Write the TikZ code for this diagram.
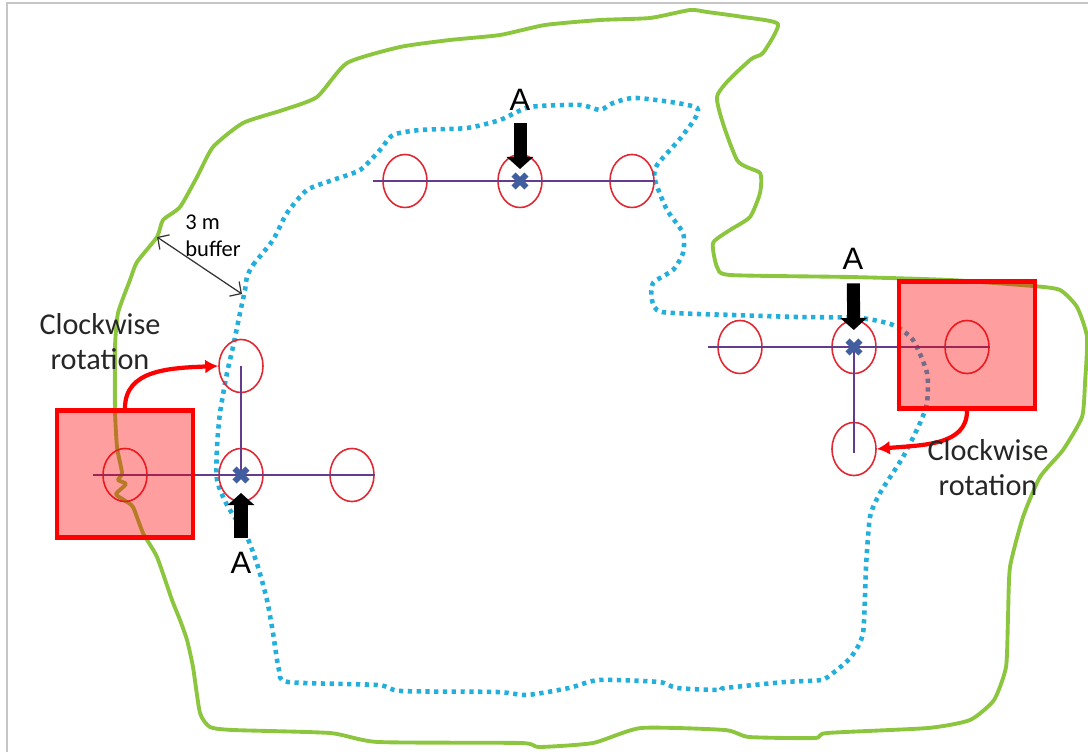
\documentclass[tikz,border=0pt]{standalone}
\usepackage{fontspec}
\setmainfont{Carlito}
\newfontfamily\arialfont{Liberation Sans}
\usetikzlibrary{arrows.meta, shapes.geometric, shapes.misc}

\definecolor{edgegreen}{RGB}{140,198,63}
\definecolor{bufblue}{RGB}{35,175,220}
\definecolor{ringred}{RGB}{225,40,50}
\definecolor{guidepurple}{RGB}{100,60,140}
\definecolor{markblue}{RGB}{65,95,160}

\tikzset{
 spot/.style={ellipse, draw=ringred, line width=0.45pt, minimum width=0.44cm, minimum height=0.53cm, inner sep=0pt},
 lot/.style={draw=red, line width=1.3pt, fill=red, fill opacity=0.38, draw opacity=1, minimum width=1.36cm, minimum height=1.27cm, inner sep=0pt},
 guide/.style={draw=guidepurple, line width=0.45pt},
 centre/.style={cross out, draw=markblue, line width=1.7pt, minimum size=0.07cm, inner sep=0pt},
 pointer/.style={line width=0.13cm, -{Triangle[length=0.12cm, width=0.26cm]}},
 letterA/.style={font=\arialfont\fontsize{8.8}{10}\selectfont, inner sep=0pt},
 note/.style={align=center, font=\fontsize{8.6}{10}\selectfont, text=black!85},
 turn/.style={draw=red, line width=1.2pt, -{Latex[length=0.13cm, width=0.14cm]}}
}

\begin{document}
\begin{tikzpicture}[x=0.01cm, y=-0.01cm]
 \useasboundingbox (0,0) rectangle (1088,752);
 \draw[gray!45, line width=0.6pt] (7,752) -- (7,3) -- (1088,3);

 % plot edge
 \draw[edgegreen, line width=1.1pt, line join=round] plot[smooth cycle, tension=0.35] coordinates {
  (130,280) (137,262) (157,237) (163,220) (180,207) (197,177) (213,147) (243,123)
  (283,110) (317,97) (347,63) (400,47) (450,40) (500,35) (545,25) (600,20) (650,18)
  (690,10) (707,12) (743,17) (778,24) (763,53) (750,60) (717,97) (737,160) (760,173)
  (760,193) (750,217) (730,230) (713,243) (717,267) (730,275) (850,277) (950,280)
  (1033,286) (1060,290) (1077,307) (1087,337) (1085,383) (1082,417) (1063,450)
  (1040,477) (1023,517) (1010,567) (1008,617) (1006,667) (994,700) (970,720)
  (928,728) (827,733) (815,738) (749,737) (725,730) (641,728) (593,743) (539,747)
  (521,743) (378,742) (330,733) (233,730) (210,727) (200,713) (193,667) (187,640)
  (180,620) (172,600) (157,557) (143,533) (133,507) (124,500) (116,494) (126,484)
  (118,480) (122,473) (117,447) (115,410) (115,347) (118,313)};

 % 3 m buffer
 \draw[bufblue, line width=1.3pt, dash pattern=on 1.2pt off 1.3pt] plot[smooth cycle, tension=0.4] coordinates {
  (247,277) (253,265) (273,240) (287,213) (307,190) (333,180) (360,170) (380,150)
  (393,135) (420,130) (467,128) (500,120) (530,107) (580,105) (600,110) (613,103)
  (637,98) (697,108) (683,135) (657,165) (655,180) (667,210) (683,233) (683,253)
  (673,270) (653,283) (652,300) (662,312) (733,315) (797,317) (860,318) (893,325)
  (913,340) (927,373) (927,403) (920,423) (903,457) (880,493) (870,517) (866,567)
  (863,633) (851,657) (833,673) (821,680) (785,682) (725,688) (719,690) (677,688)
  (659,682) (599,680) (569,688) (527,695) (497,692) (401,691) (378,685) (288,682)
  (279,670) (273,633) (267,600) (258,567) (247,537) (227,505) (217,480) (217,447)
  (220,413) (227,373) (233,347) (240,313) (245,290)};

 % top row
 \node[spot] (t1) at (405,181) {};
 \node[spot] (t2) at (520,181) {};
 \node[spot] (t3) at (632,181) {};
 \draw[guide] ([xshift=-0.32cm]t1.center) -- (t3.east);

 % left group
 \node[spot] (l0) at (125,475) {};
 \node[spot] (l1) at (241,366) {};
 \node[spot] (l2) at (241,475) {};
 \node[spot] (l3) at (352,475) {};
 \draw[guide] ([xshift=-0.32cm]l0.center) -- (l3.east);
 \draw[guide] (l1.center) -- (l2.center);

 % right group
 \node[spot] (r1) at (740,347) {};
 \node[spot] (r2) at (854,347) {};
 \node[spot] (r3) at (967,347) {};
 \node[spot] (r4) at (854,449) {};
 \draw[guide] ([xshift=-0.32cm]r1.center) -- (r3.east);
 \draw[guide] (r2.center) -- ([yshift=-0.04cm]r4.center);

 \node[centre] (xt) at (t2.center) {};
 \node[centre] (xb) at (l2.center) {};
 \node[centre] (xr) at (r2.center) {};

 \node[lot] (sqL) at (125,474) {};
 \node[lot] (sqR) at (967,345) {};

 % A arrows
 \node[letterA] (At) at (520,100) {A};
 \node[letterA] (Ab) at (241,563) {A};
 \node[letterA] (Ar) at (853,259) {A};
 \draw[pointer, shorten <=0.12cm, shorten >=0.055cm] (At) -- (xt);
 \draw[pointer, shorten <=0.14cm, shorten >=0.115cm] (Ab) -- (xb);
 \draw[pointer, shorten <=0.13cm, shorten >=0.105cm] (Ar) -- (xr);

 % rotation
 \draw[turn] (sqL.north) .. controls +(0,-38) and +(-50,2) .. (l1.west);
 \draw[turn] (sqR.south) .. controls +(0,35) and +(45,-4) .. (r4.east);
 \node[note] (rotL) at (100,342) {Clockwise\\rotation};
 \node[note] (rotR) at (988,468) {Clockwise\\rotation};

 % buffer width
 \coordinate (bufout) at (157,237);
 \coordinate (bufin) at (242,294);
 \draw[black!80, line width=0.35pt, {Straight Barb[length=2.4pt, width=5pt]}-{Straight Barb[length=2.4pt, width=5pt]}] (bufout) -- (bufin);
 \node[align=left, font=\fontsize{6.4}{7.7}\selectfont, inner sep=0pt] (bufnote) at (213,236) {3 m\\buffer};
\end{tikzpicture}
\end{document}
